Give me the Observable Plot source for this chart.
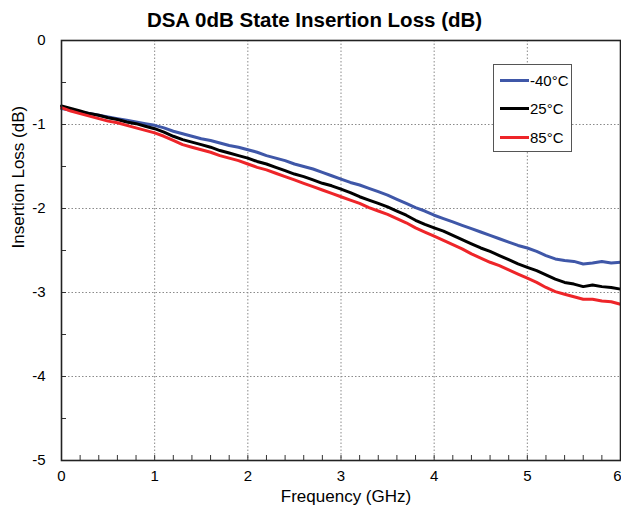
<!DOCTYPE html>
<html>
<head>
<meta charset="utf-8">
<script src="https://cdn.jsdelivr.net/npm/d3@7"></script>
<script src="https://cdn.jsdelivr.net/npm/@observablehq/plot@0.6"></script>
<style>
  body { margin: 0; background: #fff; font-family: "Liberation Sans", Arial, sans-serif; }
  #wrap { position: relative; width: 621px; height: 512px; overflow: hidden; }
  #title { height: 30px; line-height: 39px; text-align: center; font-weight: bold; font-size: 20.5px; color: #000; padding-left: 8px; box-sizing: border-box; }
  #legend { position: absolute; left: 493px; top: 64px; width: 79px; height: 88px; border: 1px solid #555; background: #fff; box-sizing: border-box; font-size: 15px; }
  .row { position: absolute; left: 6px; height: 16px; display: flex; align-items: center; }
  .sw { width: 29px; height: 3px; margin-right: 1px; }
</style>
</head>
<body>
<div id="wrap">
  <div id="title">DSA 0dB State Insertion Loss (dB)</div>
  <div id="chart"></div>
  <div id="legend"></div>
</div>
<script>
const freq = d3.range(0, 61).map(i => i / 10);

const seriesNames = ["-40°C", "25°C", "85°C"];
const seriesColors = ["#3f57a8", "#000000", "#ee2529"];

const lossMinus40 = [
  -0.81, -0.83, -0.85, -0.87, -0.89, -0.91, -0.93, -0.95, -0.97, -0.99,
  -1.01, -1.04, -1.08, -1.11, -1.14, -1.17, -1.19, -1.22, -1.25, -1.27,
  -1.30, -1.33, -1.37, -1.40, -1.43, -1.47, -1.50, -1.53, -1.57, -1.61,
  -1.65, -1.69, -1.72, -1.76, -1.80, -1.84, -1.89, -1.94, -1.99, -2.03,
  -2.08, -2.12, -2.16, -2.20, -2.24, -2.28, -2.32, -2.36, -2.40, -2.44,
  -2.47, -2.51, -2.56, -2.60, -2.62, -2.63, -2.66, -2.65, -2.63, -2.65,
  -2.64
];
const loss25 = [
  -0.78, -0.81, -0.84, -0.87, -0.89, -0.92, -0.94, -0.97, -0.99, -1.02,
  -1.05, -1.09, -1.14, -1.18, -1.21, -1.24, -1.27, -1.31, -1.34, -1.37,
  -1.40, -1.44, -1.47, -1.51, -1.55, -1.59, -1.62, -1.66, -1.70, -1.73,
  -1.77, -1.81, -1.86, -1.90, -1.94, -1.98, -2.03, -2.08, -2.14, -2.19,
  -2.23, -2.27, -2.32, -2.37, -2.42, -2.47, -2.51, -2.56, -2.61, -2.66,
  -2.70, -2.74, -2.79, -2.84, -2.88, -2.90, -2.93, -2.91, -2.93, -2.94,
  -2.96
];
const loss85 = [
  -0.80, -0.84, -0.87, -0.90, -0.93, -0.96, -0.98, -1.01, -1.04, -1.07,
  -1.10, -1.14, -1.19, -1.24, -1.27, -1.30, -1.33, -1.37, -1.40, -1.43,
  -1.47, -1.51, -1.54, -1.58, -1.62, -1.66, -1.70, -1.74, -1.78, -1.82,
  -1.86, -1.90, -1.94, -1.99, -2.03, -2.07, -2.12, -2.17, -2.23, -2.28,
  -2.33, -2.38, -2.43, -2.48, -2.54, -2.59, -2.64, -2.68, -2.73, -2.78,
  -2.83, -2.88, -2.94, -2.99, -3.02, -3.05, -3.08, -3.08, -3.10, -3.11,
  -3.14
];

const xTicks = [0, 1, 2, 3, 4, 5];
const xLastTick = [6];
const yTicks = [0, -1, -2, -3, -4, -5];
const xMinor = d3.range(0, 31).map(i => i / 5);
const yMinor = d3.range(0, 11).map(i => -i / 2);
const xLabel = "Frequency (GHz)";
const yLabel = "Insertion Loss (dB)";

const allSeries = [lossMinus40, loss25, loss85];
const data = [];
allSeries.forEach((arr, s) => arr.forEach((v, i) => data.push({f: freq[i], v, s: seriesNames[s]})));

const fmt = d => String(d);

const chart = Plot.plot({
  width: 621,
  height: 482,
  marginTop: 10,
  marginLeft: 61,
  marginRight: 1,
  marginBottom: 52,
  style: {fontFamily: "Liberation Sans, Arial, sans-serif", fontSize: "14px", color: "#000", overflow: "visible"},
  x: {domain: [0, 6]},
  y: {domain: [-5, 0]},
  color: {domain: seriesNames, range: seriesColors},
  marks: [
    Plot.gridX([1, 2, 3, 4, 5], {stroke: "#8a8a8a", strokeOpacity: 1, strokeDasharray: "1.5,2", strokeWidth: 1}),
    Plot.gridY([-1, -2, -3, -4], {stroke: "#8a8a8a", strokeOpacity: 1, strokeDasharray: "1.5,2", strokeWidth: 1}),
    Plot.axisX(xMinor, {tickSize: -5, tickFormat: () => "", stroke: "#333", label: null}),
    Plot.axisY(yMinor, {tickSize: -5, tickFormat: () => "", stroke: "#333", label: null}),
    Plot.axisX(xTicks, {tickSize: 0, tickPadding: 10, fontSize: 15, tickFormat: fmt, label: null}),
    Plot.axisX(xLastTick, {tickSize: 0, tickPadding: 10, fontSize: 15, tickFormat: fmt, dx: -3, label: null}),
    Plot.axisY(yTicks, {tickSize: 0, tickPadding: 16, fontSize: 15, tickFormat: fmt, label: null}),
    Plot.text([xLabel], {frameAnchor: "bottom", dy: 41, dx: 5, fontSize: 17, fill: "#000"}),
    Plot.text([yLabel], {frameAnchor: "left", rotate: -90, dx: -43, dy: -2, fontSize: 17, fill: "#000"}),
    Plot.line(data, {x: "f", y: "v", z: "s", stroke: "s", strokeWidth: 3}),
    Plot.frame({stroke: "#222", strokeWidth: 1.6})
  ]
});
document.getElementById("chart").appendChild(chart);

const legend = document.getElementById("legend");
seriesNames.forEach((name, i) => {
  const row = document.createElement("div");
  row.className = "row";
  row.style.top = (7 + i * 28.5) + "px";
  const sw = document.createElement("div");
  sw.className = "sw";
  sw.style.background = seriesColors[i];
  const label = document.createElement("span");
  label.textContent = name;
  row.appendChild(sw);
  row.appendChild(label);
  legend.appendChild(row);
});
</script>
</body>
</html>
